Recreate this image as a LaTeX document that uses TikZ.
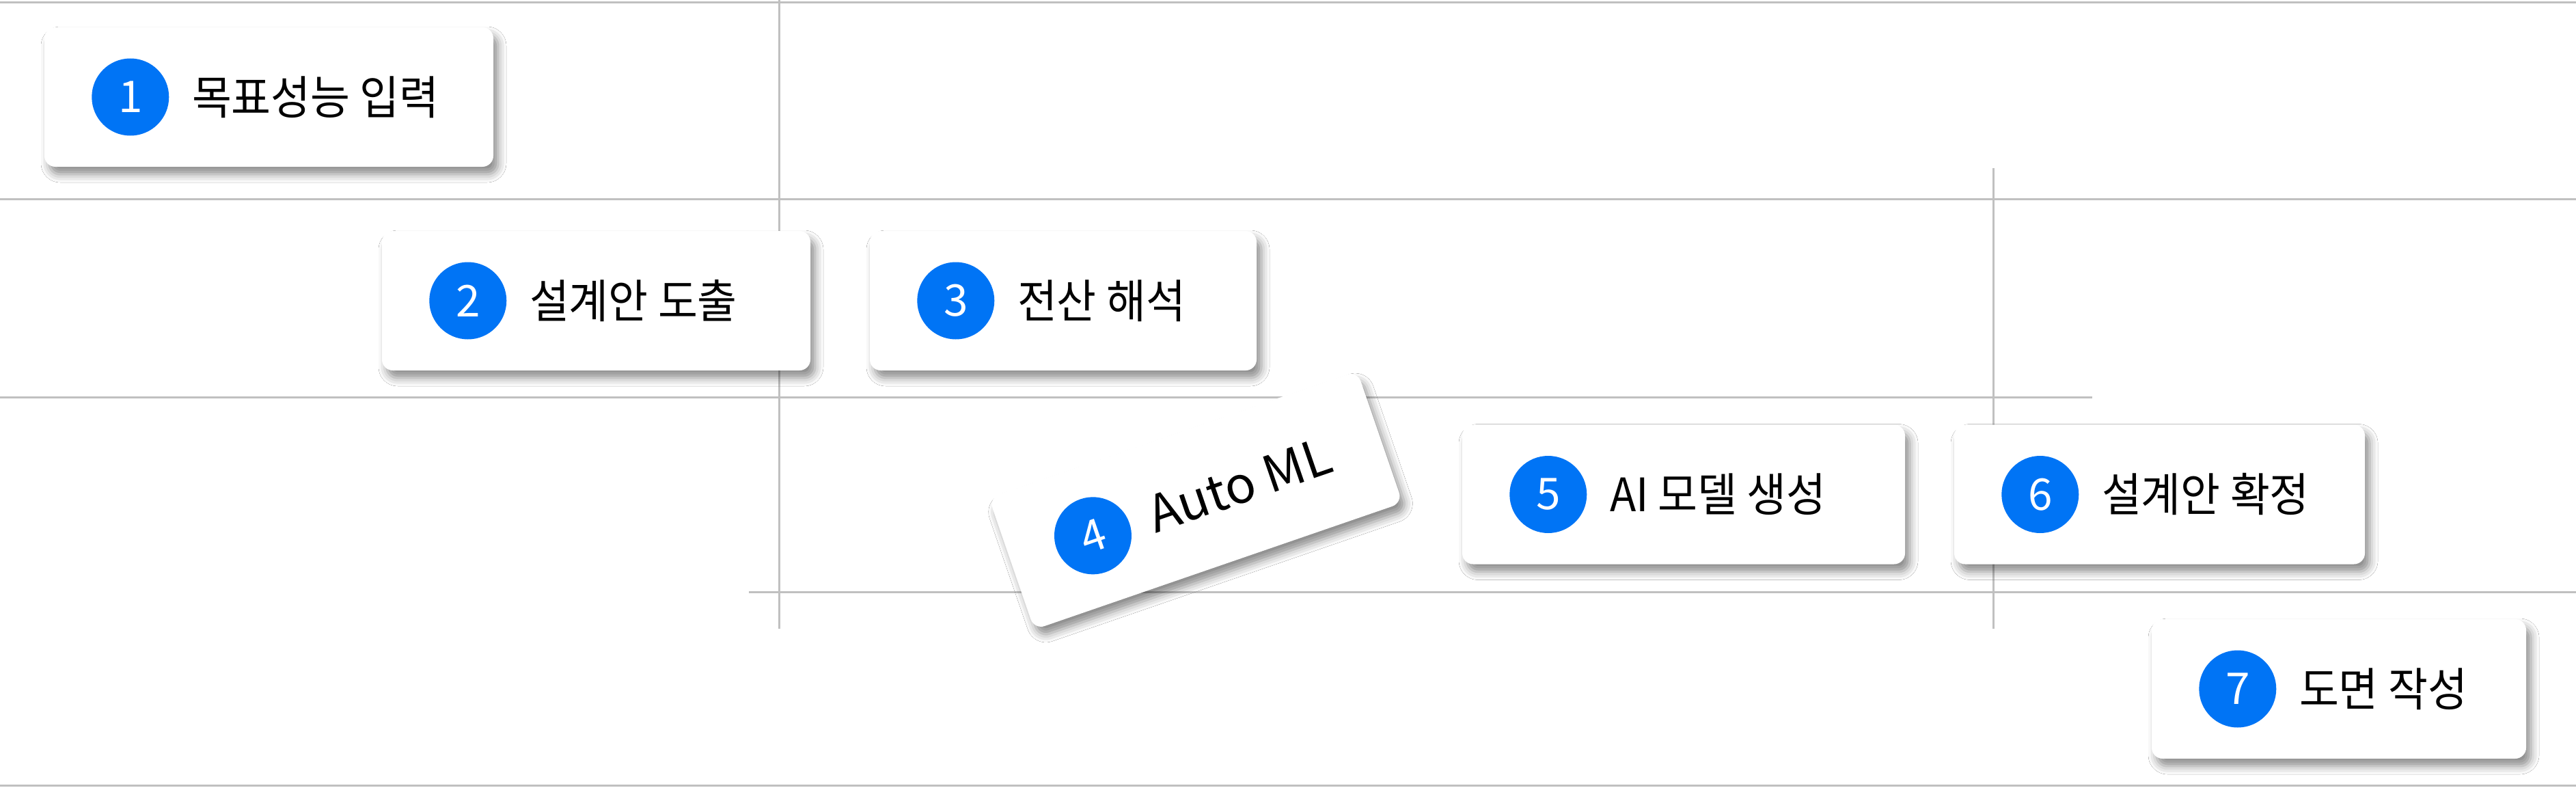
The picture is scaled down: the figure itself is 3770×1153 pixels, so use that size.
\documentclass[tikz,border=0pt]{standalone}
\usepackage{fontspec}
\setmainfont{Noto Sans CJK KR}
\usetikzlibrary{shadows.blur,calc}
\definecolor{linegray}{RGB}{192,192,192}
\definecolor{stepblue}{RGB}{0,116,245}
\tikzset{
  card/.style={rectangle, rounded corners=16pt, fill=white, inner sep=0pt,
    minimum height=204pt,
    blur shadow={shadow xshift=7pt, shadow yshift=-11pt, shadow blur radius=12pt, shadow opacity=45}},
  num/.style={circle, fill=stepblue, text=white, minimum size=113pt, inner sep=0pt,
    font=\fontsize{64}{64}\selectfont},
  lbl/.style={anchor=west, inner sep=0pt, yscale=1.07, font=\fontsize{63}{63}\selectfont},
  biglbl/.style={anchor=west, inner sep=0pt, font=\fontsize{74}{74}\selectfont},
  gridline/.style={draw=linegray, line width=3pt}
}
\begin{document}
\begin{tikzpicture}[x=1pt,y=-1pt]
\useasboundingbox[fill=white] (0,0) rectangle (3770,1153);
% grid lines
\draw[gridline] (0,4) -- (3770,4);
\draw[gridline] (0,291) -- (3770,291);
\draw[gridline] (0,581) -- (3062,581);
\draw[gridline] (1096,866) -- (3770,866);
\draw[gridline] (0,1149) -- (3770,1149);
\draw[gridline] (1140,0) -- (1140,920);
\draw[gridline] (2917,246) -- (2917,920);
% card 1
\node[card, minimum width=657pt] (c1) at (393.5,142) {};
\node[num] (n1) at ([xshift=126pt]c1.west) {1};
\node[lbl] (t1) at ([xshift=90pt]n1.center) {목표성능 입력};
% card 2
\node[card, minimum width=627pt] (c2) at (872.5,440) {};
\node[num] (n2) at ([xshift=126pt]c2.west) {2};
\node[lbl] (t2) at ([xshift=90pt]n2.center) {설계안 도출};
% card 3
\node[card, minimum width=566pt] (c3) at (1556,440) {};
\node[num] (n3) at ([xshift=126pt]c3.west) {3};
\node[lbl] (t3) at ([xshift=90pt]n3.center) {전산 해석};
% card 4 (tilted)
\node[card, minimum width=570pt, rotate=19] (c4) at (1750,732) {};
\node[num, rotate=19] (n4) at ($(c4.west)!126pt!(c4.east)$) {4};
\node[biglbl, rotate=19] (t4) at ($(n4.center)!88pt!(c4.east)$) {Auto ML};
% card 5
\node[card, minimum width=648pt] (c5) at (2464,723.5) {};
\node[num] (n5) at ([xshift=126pt]c5.west) {5};
\node[lbl] (t5) at ([xshift=90pt]n5.center) {AI 모델 생성};
% card 6
\node[card, minimum width=601pt] (c6) at (3160.5,723.5) {};
\node[num] (n6) at ([xshift=126pt]c6.west) {6};
\node[lbl] (t6) at ([xshift=90pt]n6.center) {설계안 확정};
% card 7
\node[card, minimum width=548pt] (c7) at (3423,1008) {};
\node[num] (n7) at ([xshift=126pt]c7.west) {7};
\node[lbl] (t7) at ([xshift=90pt]n7.center) {도면 작성};
\end{tikzpicture}
\end{document}
